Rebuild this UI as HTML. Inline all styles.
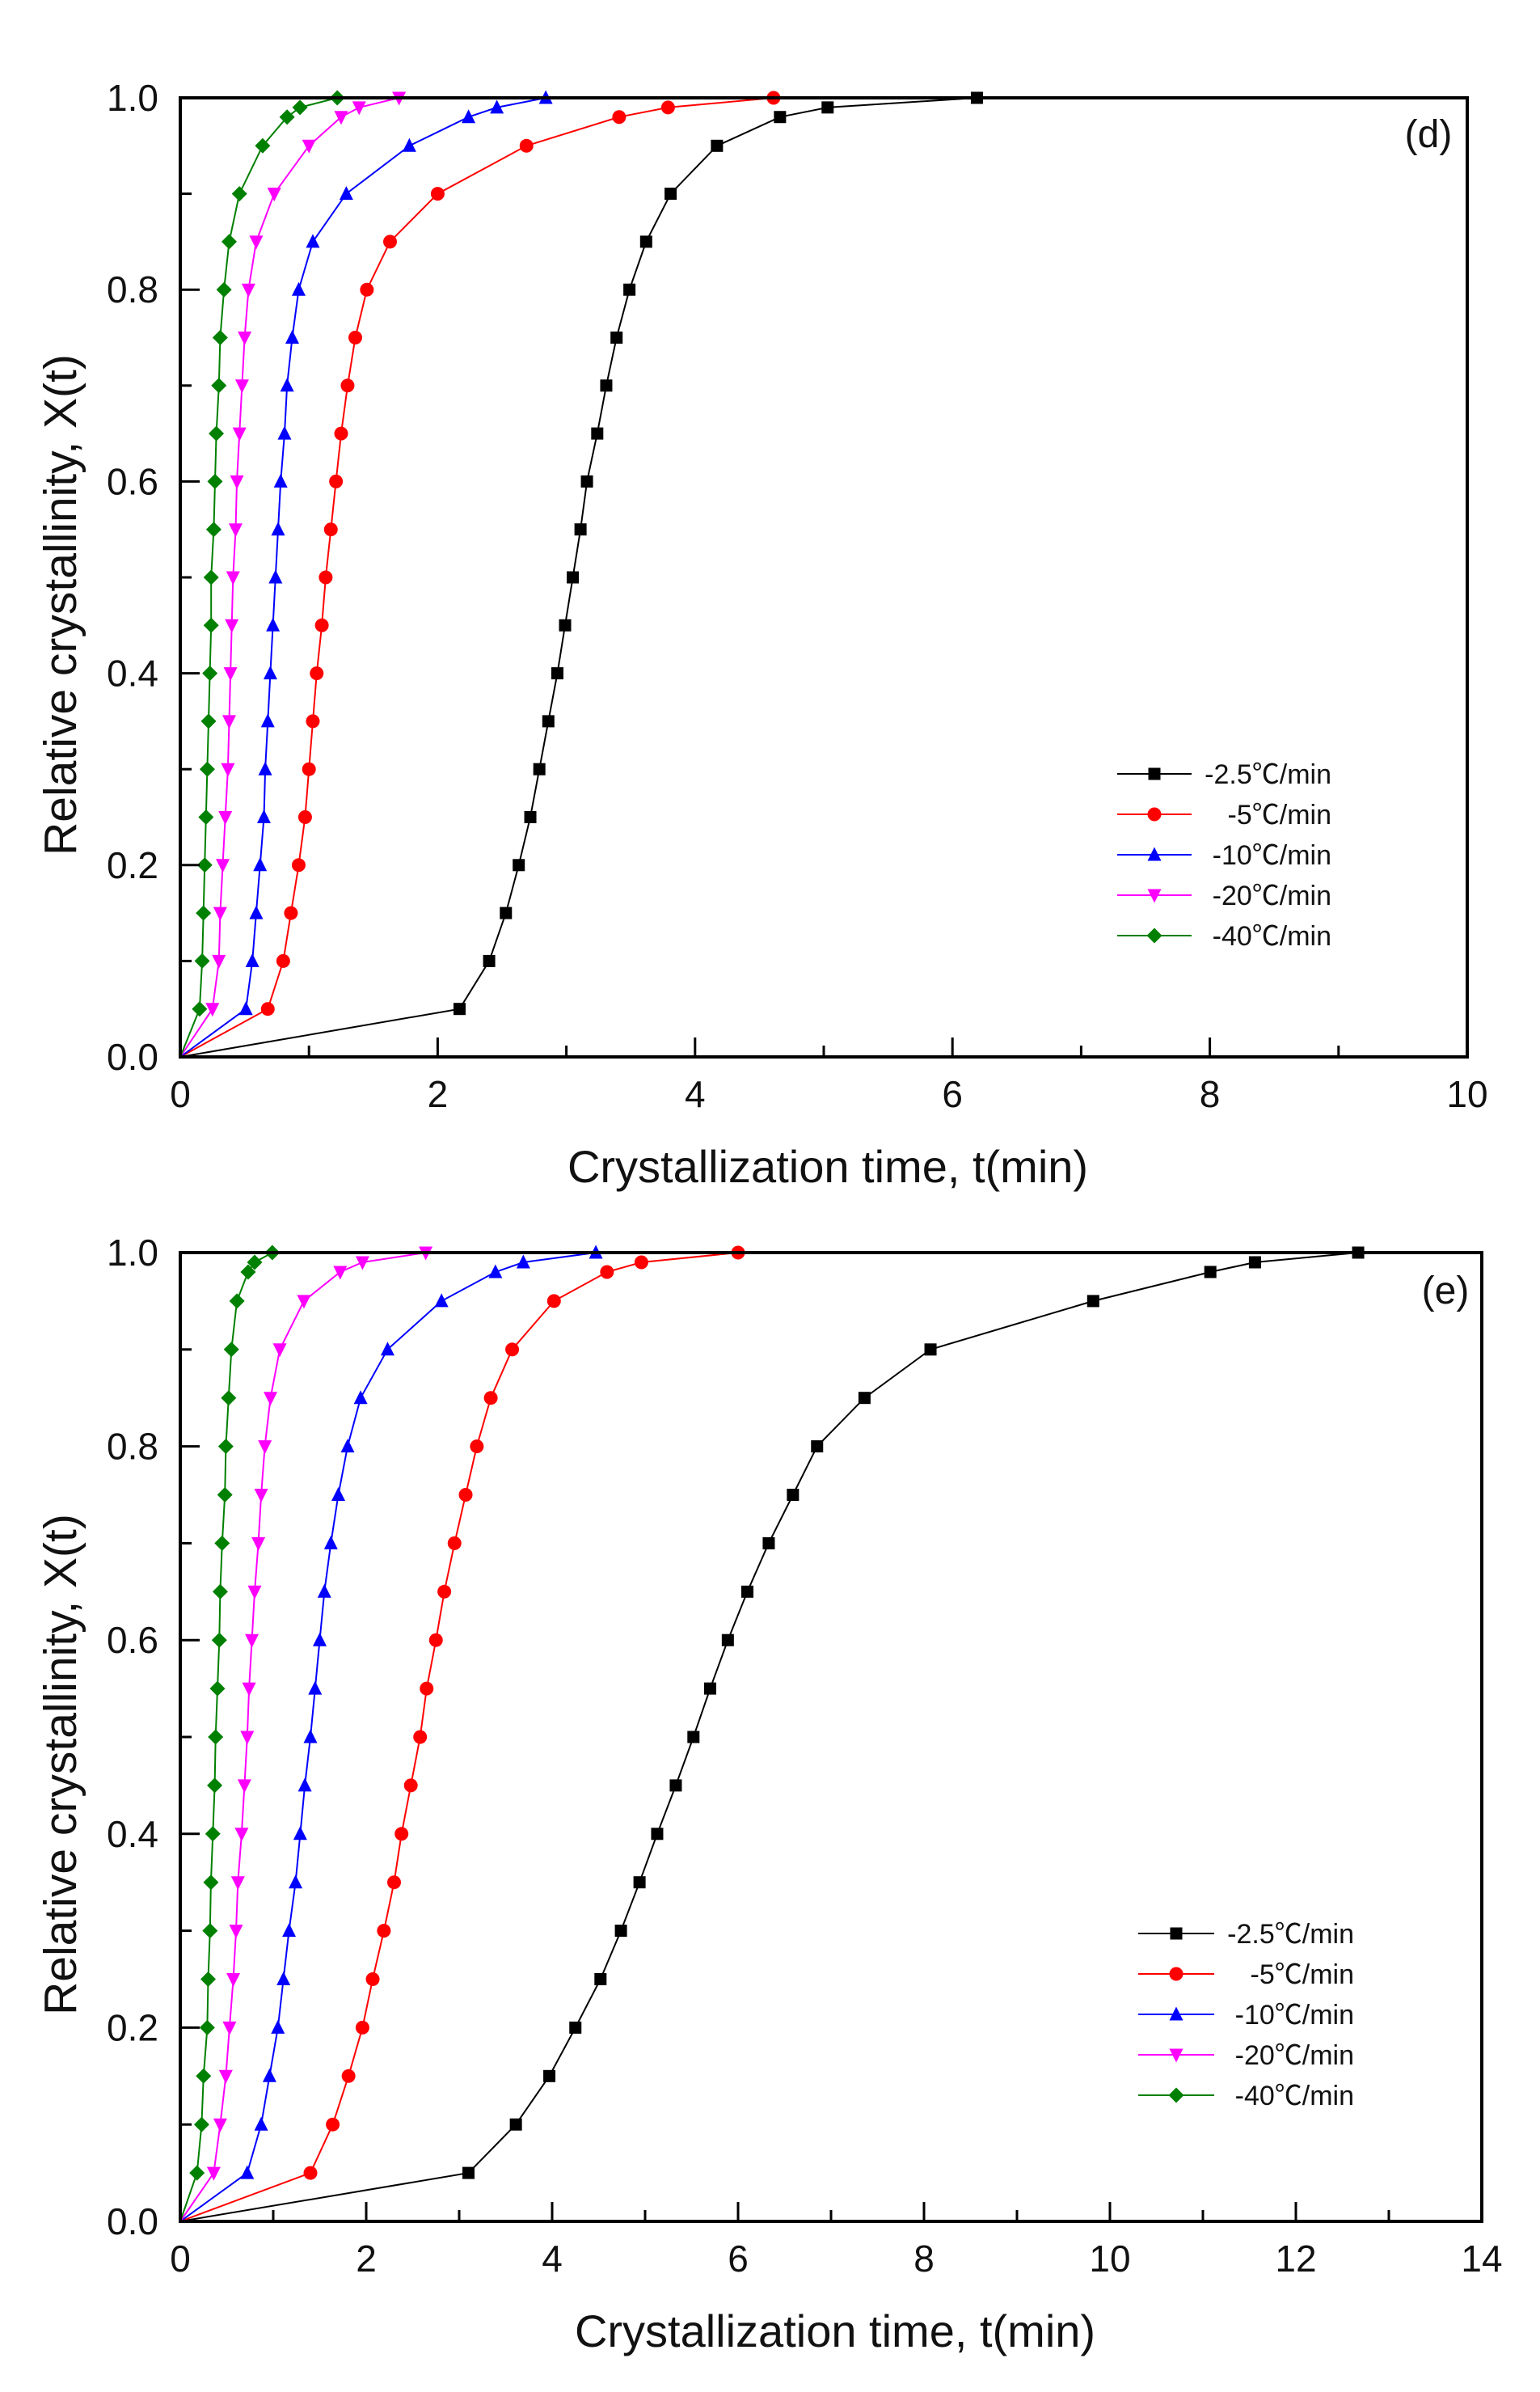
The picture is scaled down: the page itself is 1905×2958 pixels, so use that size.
<!DOCTYPE html>
<html><head><meta charset="utf-8"><style>
html,body{margin:0;padding:0;background:#fff}
svg{display:block}
text{font-family:"Liberation Sans","Noto Sans CJK SC",sans-serif;fill:#111}
</style></head><body>
<svg id="fig" width="1905" height="2958" viewBox="0 0 1905 2958" xmlns="http://www.w3.org/2000/svg"></svg>
<script>
const seriesLabels = ["-2.5℃/min","-5℃/min","-10℃/min","-20℃/min","-40℃/min"];
const seriesColors = ["#000","#ff0000","#0000ff","#ff00ff","#008000"];
const seriesMarkers = ["square","circle","triangle","down","diamond"];
const yValues = [0,0.05,0.1,0.15,0.2,0.25,0.3,0.35,0.4,0.45,0.5,0.55,0.6,0.65,0.7,0.75,0.8,0.85,0.9,0.95,0.98,0.99,1.0];
const yTicks = [0,0.2,0.4,0.6,0.8,1.0];
const yTickLabels = ["0.0","0.2","0.4","0.6","0.8","1.0"];
const dTicks = [0,2,4,6,8,10];
const eTicks = [0,2,4,6,8,10,12,14];
const dTimeBlack = [0,2.17,2.40,2.53,2.63,2.72,2.79,2.86,2.93,2.99,3.05,3.11,3.16,3.24,3.31,3.39,3.49,3.62,3.81,4.17,4.66,5.03,6.19];
const dTimeRed = [0,0.68,0.80,0.86,0.92,0.97,1.00,1.03,1.06,1.10,1.13,1.17,1.21,1.25,1.30,1.36,1.45,1.63,2.0,2.69,3.41,3.79,4.61];
const dTimeBlue = [0,0.51,0.56,0.59,0.62,0.65,0.66,0.68,0.70,0.72,0.74,0.76,0.78,0.81,0.83,0.87,0.92,1.03,1.29,1.78,2.24,2.46,2.84];
const dTimeMagenta = [0,0.25,0.30,0.31,0.33,0.35,0.37,0.38,0.39,0.40,0.41,0.43,0.44,0.46,0.48,0.50,0.53,0.59,0.73,1.00,1.25,1.39,1.70];
const dTimeGreen = [0,0.15,0.17,0.18,0.19,0.20,0.21,0.22,0.23,0.24,0.24,0.26,0.27,0.28,0.30,0.31,0.34,0.38,0.46,0.64,0.83,0.93,1.22];
const eTimeBlack = [0,3.10,3.61,3.97,4.25,4.52,4.74,4.94,5.13,5.33,5.52,5.70,5.89,6.10,6.33,6.59,6.85,7.36,8.07,9.82,11.08,11.56,12.67];
const eTimeRed = [0,1.40,1.64,1.81,1.96,2.07,2.19,2.30,2.38,2.48,2.58,2.65,2.75,2.84,2.95,3.07,3.19,3.34,3.57,4.02,4.59,4.96,6.0];
const eTimeBlue = [0,0.72,0.87,0.96,1.05,1.11,1.17,1.24,1.29,1.34,1.40,1.45,1.50,1.55,1.62,1.70,1.80,1.94,2.23,2.81,3.39,3.69,4.47];
const eTimeMagenta = [0,0.36,0.43,0.49,0.53,0.57,0.60,0.62,0.66,0.69,0.72,0.74,0.77,0.80,0.84,0.87,0.91,0.97,1.07,1.33,1.72,1.96,2.64];
const eTimeGreen = [0,0.18,0.23,0.25,0.29,0.30,0.32,0.33,0.35,0.37,0.38,0.40,0.42,0.43,0.45,0.48,0.49,0.52,0.55,0.61,0.73,0.80,0.99];

const NS="http://www.w3.org/2000/svg";
const svg=document.getElementById('fig');
function mk(tag,attrs,parent){const e=document.createElementNS(NS,tag);for(const k in attrs)e.setAttribute(k,attrs[k]);(parent||svg).appendChild(e);return e;}
function marker(g,type,x,y,c){
  const s=7.5;let e;
  if(type==="square")e=mk('rect',{x:x-s,y:y-s,width:2*s,height:2*s,fill:c},g);
  else if(type==="circle")e=mk('circle',{cx:x,cy:y,r:s+1,fill:c},g);
  else if(type==="triangle")e=mk('polygon',{points:`${x},${y-s-2} ${x+s+1},${y+s} ${x-s-1},${y+s}`,fill:c},g);
  else if(type==="down")e=mk('polygon',{points:`${x},${y+s+2} ${x+s+1},${y-s} ${x-s-1},${y-s}`,fill:c},g);
  else e=mk('polygon',{points:`${x},${y-s-2} ${x+s+2},${y} ${x},${y+s+2} ${x-s-2},${y}`,fill:c},g);
  
  
}
function panel(cfg){
  const {L,R,T,B,xmax,xticks,series,tag,legX1,legX2,legTextR,legY,labelX,labelY}=cfg;
  const g=mk('g',{});
  
  
  const sx=v=>L+(v/xmax)*(R-L), sy=v=>B-v*(B-T);
  series.forEach((ts,i)=>{
    const sg=mk('g',{},g);
    
    
    const pts=ts.map((t,j)=>sx(t).toFixed(1)+','+sy(yValues[j]).toFixed(1)).join(' ');
    const pl=mk('polyline',{points:pts,fill:'none',stroke:seriesColors[i],'stroke-width':2},sg);
    
    
    ts.forEach((t,j)=>{if(j>0)marker(sg,seriesMarkers[i],sx(t),sy(yValues[j]),seriesColors[i]);});
  });
  const fr=mk('rect',{x:L,y:T,width:R-L,height:B-T,fill:'none',stroke:'#000','stroke-width':4},g);
  
  
  xticks.forEach((v,i)=>{
    mk('line',{x1:sx(v),x2:sx(v),y1:B,y2:B-24,stroke:'#000','stroke-width':3},g);
    if(i<xticks.length-1){const m=(v+xticks[i+1])/2;mk('line',{x1:sx(m),x2:sx(m),y1:B,y2:B-14,stroke:'#000','stroke-width':3},g);}
    const t=mk('text',{x:sx(v),y:B+62,'font-size':46,'text-anchor':'middle'},g);t.textContent=v;
    
    
  });
  yTicks.forEach((v,i)=>{
    mk('line',{x1:L,x2:L+24,y1:sy(v),y2:sy(v),stroke:'#000','stroke-width':3},g);
    if(i<yTicks.length-1){const m=(v+yTicks[i+1])/2;mk('line',{x1:L,x2:L+14,y1:sy(m),y2:sy(m),stroke:'#000','stroke-width':3},g);}
    const t=mk('text',{x:L-27,y:sy(v)+16,'font-size':46,'text-anchor':'end'},g);t.textContent=yTickLabels[i];
    
    
  });
  const xt=mk('text',{x:(L+R)/2+5,y:B+155,'font-size':56,'text-anchor':'middle'},g);
  xt.textContent='Crystallization time, t(min)';
  
  
  const yc=(T+B)/2+34;
  const yt=mk('text',{x:94,y:yc,'font-size':57,'text-anchor':'middle',transform:`rotate(-90 94 ${yc})`},g);
  yt.textContent='Relative crystallinity, X(t)';
  
  
  const pl=mk('text',{x:labelX,y:labelY,'font-size':48,'text-anchor':'middle'},g);
  pl.textContent='('+tag+')';
  
  
  const lg=mk('g',{},g);
  
  
  seriesLabels.forEach((lab,i)=>{
    const y=legY+i*50;
    const eg=mk('g',{},lg);
    
    
    mk('line',{x1:legX1,x2:legX2,y1:y,y2:y,stroke:seriesColors[i],'stroke-width':2},eg);
    marker(eg,seriesMarkers[i],(legX1+legX2)/2,y,seriesColors[i]);
    const t=mk('text',{x:legTextR,y:y+12,'font-size':34,'text-anchor':'end'},eg);t.textContent=lab;
  });
}
panel({L:223,R:1815,T:121,B:1307,xmax:10,xticks:dTicks,tag:'d',
  series:[dTimeBlack,dTimeRed,dTimeBlue,dTimeMagenta,dTimeGreen],
  legX1:1382,legX2:1474,legTextR:1647,legY:957,labelX:1767,labelY:182});
panel({L:223,R:1833,T:1549,B:2747,xmax:14,xticks:eTicks,tag:'e',
  series:[eTimeBlack,eTimeRed,eTimeBlue,eTimeMagenta,eTimeGreen],
  legX1:1408,legX2:1502,legTextR:1675,legY:2391,labelX:1788,labelY:1612});
</script>
</body></html>
